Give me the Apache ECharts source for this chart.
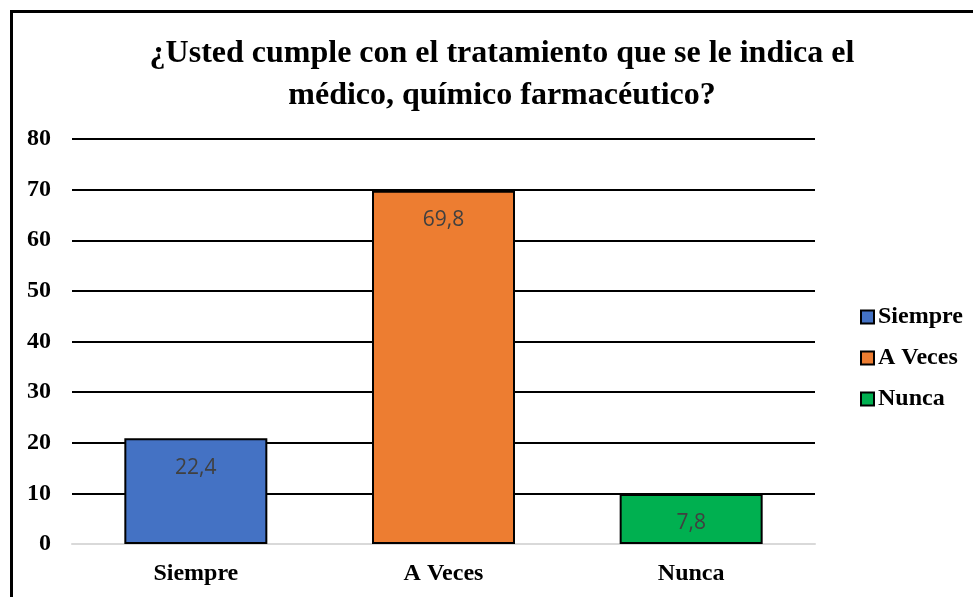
<!DOCTYPE html>
<html><head><meta charset="utf-8">
<script src="https://cdn.jsdelivr.net/npm/echarts@6/dist/echarts.min.js"></script>
<style>html,body{margin:0;padding:0;background:#fff}#c{width:973px;height:597px}</style>
</head><body><div id="c"></div>
<script>
const categories = ['Siempre', 'A Veces', 'Nunca'];
const values = [20.9, 69.8, 9.9];
const labelTexts = ['22,4', '69,8', '7,8'];
const colors = ['#4472C4', '#ED7D31', '#00B050'];
const yTicks = [0, 10, 20, 30, 40, 50, 60, 70, 80];

const serif = '"Liberation Serif", "Times New Roman", serif';
const chart = echarts.init(document.getElementById('c'));
const series = categories.map((name, i) => ({
  name: name,
  type: 'bar',
  barWidth: 143,
  barGap: '-100%',
  data: values.map((v, j) => j === i ? v : null),
  itemStyle: { color: colors[i], borderColor: '#000', borderWidth: 2 },
  label: {
    show: true, position: 'insideTop', distance: 19,
    formatter: () => labelTexts[i],
    color: '#404040', fontSize: 21, fontFamily: '"Open Sans", "Liberation Sans", sans-serif'
  }
}));
chart.setOption({
  animation: false,
  graphic: [{ type: 'rect', shape: { x: 11.5, y: 11.5, width: 1000, height: 700 }, style: { fill: 'none', stroke: '#000', lineWidth: 3 }, z: -1 }],
  title: {
    text: '¿Usted cumple con el tratamiento que se le indica el\nmédico, químico farmacéutico?',
    left: 497, top: 28, textAlign: 'center',
    textStyle: { fontFamily: serif, fontWeight: 'bold', fontSize: 32, lineHeight: 42, color: '#000' }
  },
  legend: {
    orient: 'vertical', left: 855, top: 300, itemGap: 17, itemWidth: 13, itemHeight: 13,
    icon: 'rect',
    textStyle: { fontFamily: serif, fontWeight: 'bold', fontSize: 24, color: '#000', padding: [0, 0, 0, -1] }
  },
  grid: { left: 72, right: 158, top: 139, bottom: 53 },
  xAxis: {
    type: 'category', data: categories,
    axisLine: { lineStyle: { color: '#d9d9d9', width: 2 } },
    axisTick: { show: false },
    axisLabel: { fontFamily: serif, fontWeight: 'bold', fontSize: 24, color: '#000', margin: 18 }
  },
  yAxis: {
    type: 'value', min: yTicks[0], max: yTicks[yTicks.length - 1], interval: 10,
    axisLine: { show: false }, axisTick: { show: false },
    splitLine: { lineStyle: { color: '#000', width: 2 } },
    axisLabel: { fontFamily: serif, fontWeight: 'bold', fontSize: 24, color: '#000', margin: 21 }
  },
  series: series
});
</script></body></html>
